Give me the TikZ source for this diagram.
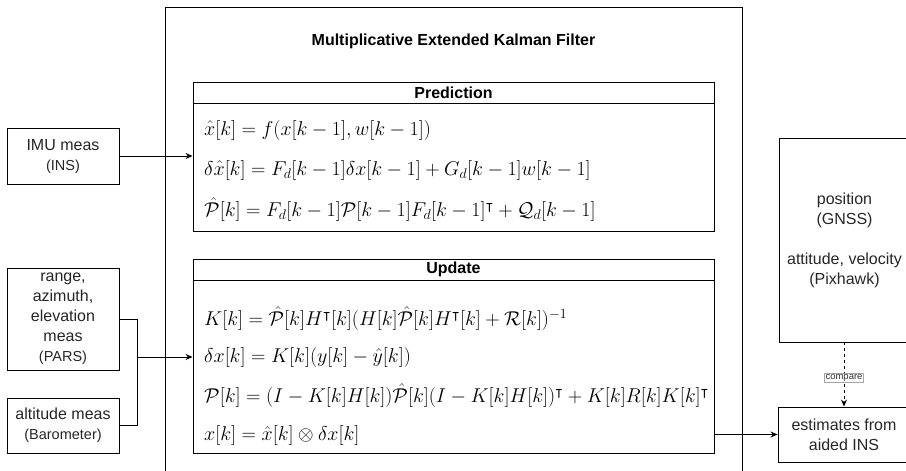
\documentclass[tikz,border=0pt]{standalone}
\usepackage{fix-cm}
\usepackage{amsmath,amssymb}
\usepackage{fontspec}
\usetikzlibrary{arrows.meta,positioning,calc}
\newfontfamily\drawiofont{Liberation Sans}
\newcommand{\labelfont}{\drawiofont\fontsize{16}{20}\selectfont}
\newcommand{\subfont}{\drawiofont\fontsize{14.5}{20}\selectfont}
\newcommand{\eqfont}{\fontsize{20}{23}\selectfont}

\begin{document}
\begin{tikzpicture}[
    x=1pt,
    y=-1pt,
    >={Stealth[length=7pt,width=6pt]},
    box/.style={draw,line width=0.9pt,inner sep=0pt,align=center,font=\labelfont,text=black!85},
    panel/.style={draw,line width=0.9pt,inner sep=0pt,minimum width=521pt},
    head/.style={panel,minimum height=21pt,font=\drawiofont\bfseries\fontsize{16}{20}\selectfont,anchor=north},
    eq/.style={anchor=west,inner sep=0pt,font=\eqfont},
    link/.style={line width=0.9pt},
    every node/.style={font=\labelfont}
]
  \useasboundingbox (0,0) rectangle (906,471);
  \clip (0,0) rectangle (906,471);

  % filter frame
  \node[draw,line width=0.9pt,minimum width=577pt,minimum height=500pt,anchor=north west] (mekf) at (165,7) {};
  \node[font=\drawiofont\bfseries\fontsize{16}{20}\selectfont] (title) at (453.5,41) {Multiplicative Extended Kalman Filter};

  % prediction step
  \node[panel,minimum height=149pt] (pred) at (453.5,156.5) {};
  \node[head] (predhead) at (pred.north) {Prediction};
  \node[eq] (eqa) at (204,130) {$\hat{x}[k] = f(x[k-1], w[k-1])$};
  \node[eq] (eqb) at (204,170) {$\delta\hat{x}[k] = F_d[k-1]\delta x[k-1] + G_d[k-1]w[k-1]$};
  \node[eq] (eqc) at (204,210) {$\hat{\mathcal{P}}[k] = F_d[k-1]\mathcal{P}[k-1]F_d[k-1]^{\intercal} + \mathcal{Q}_d[k-1]$};

  % update step
  \node[panel,minimum height=194pt] (upd) at (453.5,356) {};
  \node[head] (updhead) at (upd.north) {Update};
  \node[eq] (eqd) at (204,319) {$K[k] = \hat{\mathcal{P}}[k]H^{\intercal}[k](H[k]\hat{\mathcal{P}}[k]H^{\intercal}[k] + \mathcal{R}[k])^{-1}$};
  \node[eq] (eqe) at (204,357) {$\delta x[k] = K[k](y[k] - \hat{y}[k])$};
  \node[eq] (eqf) at (204,396) {$\mathcal{P}[k] = (I - K[k]H[k])\hat{\mathcal{P}}[k](I - K[k]H[k])^{\intercal} + K[k]R[k]K[k]^{\intercal}$};
  \node[eq] (eqg) at (204,435) {$x[k] = \hat{x}[k] \otimes \delta x[k]$};

  % sensors
  \node[box,minimum width=112pt,minimum height=56pt] (imu) at (63,156) {IMU meas\\{\subfont (INS)}};
  \node[box,minimum width=112pt,minimum height=102pt] (pars) at (63,319) {range,\\azimuth,\\elevation\\meas\\{\subfont (PARS)}};
  \node[box,minimum width=112pt,minimum height=55pt] (baro) at (63,425.5) {altitude meas\\{\subfont (Barometer)}};
  \coordinate (join) at (137,357);

  % references and output
  \node[box,minimum width=131pt,minimum height=204pt] (gnss) at (844.5,240) {position\\(GNSS)\\[20pt]attitude, velocity\\(Pixhawk)};
  \node[box,minimum width=132pt,minimum height=55pt] (est) at (844,434.5) {estimates from\\aided INS};

  \draw[link,->] (imu.east) -- (imu.east -| pred.west);
  \draw[link] (pars.east) -| (baro.east -| join) -- (baro.east);
  \draw[link,->] (join) -- (join -| upd.west);
  \draw[link,->] (est.west -| upd.east) -- (est.west);
  \draw[link,->,dash pattern=on 3pt off 3pt] (gnss.south -| est.north) -- (est.north)
    node[pos=0.55,draw=black!35,line width=0.5pt,fill=white,solid,inner sep=1pt,font=\drawiofont\fontsize{9.5}{11}\selectfont,text=black!80] (cmp) {compare};
\end{tikzpicture}
\end{document}
